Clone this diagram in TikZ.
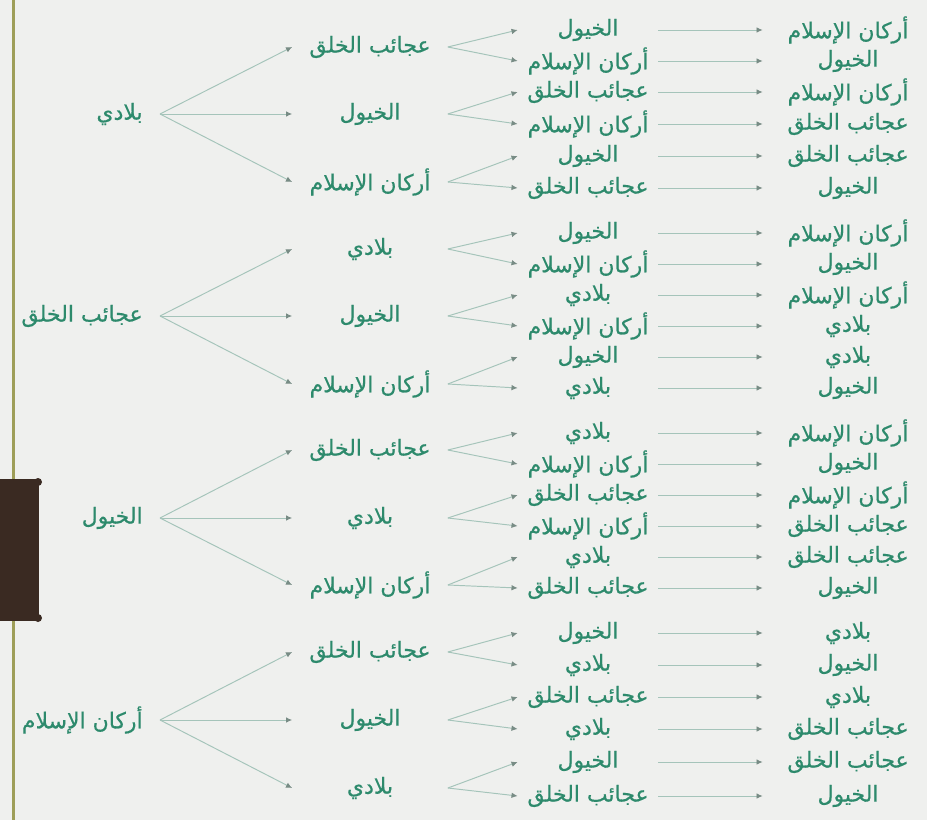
\documentclass[tikz,border=0pt]{standalone}
\usepackage{fontspec}
\newfontfamily\arabicfont[Script=Arabic,FakeBold=0.6]{DejaVu Sans}
\TeXXeTstate=1
\usetikzlibrary{arrows.meta}
\definecolor{wordgreen}{RGB}{45,138,108}
\definecolor{linegreen}{RGB}{165,196,186}
\definecolor{tipgray}{RGB}{120,140,133}
\definecolor{paper}{RGB}{239,240,238}
\definecolor{marginline}{RGB}{158,158,88}
\definecolor{clipbrown}{RGB}{58,42,34}
\newcommand{\biladi}{\beginR بلادي\endR}
\newcommand{\ajaib}{\beginR عجائب الخلق\endR}
\newcommand{\khuyul}{\beginR الخيول\endR}
\newcommand{\arkan}{\beginR أركان الإسلام\endR}
\tikzstyle{every node}=[font=\arabicfont\fontsize{12.5}{14}\selectfont,text=wordgreen,inner sep=0pt]
\tikzstyle{root} = [anchor=east,inner xsep=3.4mm]
\tikzstyle{lvlone} = [minimum width=31mm]
\tikzstyle{lvltwo} = [minimum width=28mm]
\tikzstyle{lvlthree} = [minimum width=34mm]
\tikzstyle{arrow} = [linegreen,line width=0.55pt,-{Latex[length=3.5pt,width=3.2pt,color=tipgray]}]

\begin{document}
\begin{tikzpicture}[x=0.2mm,y=-0.2mm]
\useasboundingbox (0,0) rectangle (927,820);
\fill[paper] (0,0) rectangle (927,820);

% first words
\node[root] (r1) at (160,114) {\biladi};
\node[root] (r2) at (160,316) {\ajaib};
\node[root] (r3) at (160,518) {\khuyul};
\node[root] (r4) at (160,720) {\arkan};

% second words
\node[lvlone] (c1) at (370,47) {\ajaib};
\node[lvlone] (c2) at (370,114) {\khuyul};
\node[lvlone] (c3) at (370,182) {\arkan};
\node[lvlone] (c4) at (370,249) {\biladi};
\node[lvlone] (c5) at (370,316) {\khuyul};
\node[lvlone] (c6) at (370,384) {\arkan};
\node[lvlone] (c7) at (370,450) {\ajaib};
\node[lvlone] (c8) at (370,518) {\biladi};
\node[lvlone] (c9) at (370,585) {\arkan};
\node[lvlone] (c10) at (370,652) {\ajaib};
\node[lvlone] (c11) at (370,720) {\khuyul};
\node[lvlone] (c12) at (370,788) {\biladi};

\draw (r1.east) edge[arrow] (c1.west) edge[arrow] (c2.west) edge[arrow] (c3.west);
\draw (r2.east) edge[arrow] (c4.west) edge[arrow] (c5.west) edge[arrow] (c6.west);
\draw (r3.east) edge[arrow] (c7.west) edge[arrow] (c8.west) edge[arrow] (c9.west);
\draw (r4.east) edge[arrow] (c10.west) edge[arrow] (c11.west) edge[arrow] (c12.west);

% third and last words, one row each
\path (588,30) node[lvltwo] (g1) {\khuyul} (848,30) node[lvlthree] (e1) {\arkan} (g1.east) edge[arrow] (e1.west);
\path (588,61) node[lvltwo] (g2) {\arkan} (848,61) node[lvlthree] (e2) {\khuyul} (g2.east) edge[arrow] (e2.west);
\path (588,92) node[lvltwo] (g3) {\ajaib} (848,92) node[lvlthree] (e3) {\arkan} (g3.east) edge[arrow] (e3.west);
\path (588,124) node[lvltwo] (g4) {\arkan} (848,124) node[lvlthree] (e4) {\ajaib} (g4.east) edge[arrow] (e4.west);
\path (588,156) node[lvltwo] (g5) {\khuyul} (848,156) node[lvlthree] (e5) {\ajaib} (g5.east) edge[arrow] (e5.west);
\path (588,188) node[lvltwo] (g6) {\ajaib} (848,188) node[lvlthree] (e6) {\khuyul} (g6.east) edge[arrow] (e6.west);
\path (588,233) node[lvltwo] (g7) {\khuyul} (848,233) node[lvlthree] (e7) {\arkan} (g7.east) edge[arrow] (e7.west);
\path (588,264) node[lvltwo] (g8) {\arkan} (848,264) node[lvlthree] (e8) {\khuyul} (g8.east) edge[arrow] (e8.west);
\path (588,295) node[lvltwo] (g9) {\biladi} (848,295) node[lvlthree] (e9) {\arkan} (g9.east) edge[arrow] (e9.west);
\path (588,326) node[lvltwo] (g10) {\arkan} (848,326) node[lvlthree] (e10) {\biladi} (g10.east) edge[arrow] (e10.west);
\path (588,357) node[lvltwo] (g11) {\khuyul} (848,357) node[lvlthree] (e11) {\biladi} (g11.east) edge[arrow] (e11.west);
\path (588,388) node[lvltwo] (g12) {\biladi} (848,388) node[lvlthree] (e12) {\khuyul} (g12.east) edge[arrow] (e12.west);
\path (588,433) node[lvltwo] (g13) {\biladi} (848,433) node[lvlthree] (e13) {\arkan} (g13.east) edge[arrow] (e13.west);
\path (588,464) node[lvltwo] (g14) {\arkan} (848,464) node[lvlthree] (e14) {\khuyul} (g14.east) edge[arrow] (e14.west);
\path (588,495) node[lvltwo] (g15) {\ajaib} (848,495) node[lvlthree] (e15) {\arkan} (g15.east) edge[arrow] (e15.west);
\path (588,526) node[lvltwo] (g16) {\arkan} (848,526) node[lvlthree] (e16) {\ajaib} (g16.east) edge[arrow] (e16.west);
\path (588,557) node[lvltwo] (g17) {\biladi} (848,557) node[lvlthree] (e17) {\ajaib} (g17.east) edge[arrow] (e17.west);
\path (588,588) node[lvltwo] (g18) {\ajaib} (848,588) node[lvlthree] (e18) {\khuyul} (g18.east) edge[arrow] (e18.west);
\path (588,633) node[lvltwo] (g19) {\khuyul} (848,633) node[lvlthree] (e19) {\biladi} (g19.east) edge[arrow] (e19.west);
\path (588,665) node[lvltwo] (g20) {\biladi} (848,665) node[lvlthree] (e20) {\khuyul} (g20.east) edge[arrow] (e20.west);
\path (588,697) node[lvltwo] (g21) {\ajaib} (848,697) node[lvlthree] (e21) {\biladi} (g21.east) edge[arrow] (e21.west);
\path (588,729) node[lvltwo] (g22) {\biladi} (848,729) node[lvlthree] (e22) {\ajaib} (g22.east) edge[arrow] (e22.west);
\path (588,762) node[lvltwo] (g23) {\khuyul} (848,762) node[lvlthree] (e23) {\ajaib} (g23.east) edge[arrow] (e23.west);
\path (588,796) node[lvltwo] (g24) {\ajaib} (848,796) node[lvlthree] (e24) {\khuyul} (g24.east) edge[arrow] (e24.west);

\draw (c1.east) edge[arrow] (g1.west) edge[arrow] (g2.west);
\draw (c2.east) edge[arrow] (g3.west) edge[arrow] (g4.west);
\draw (c3.east) edge[arrow] (g5.west) edge[arrow] (g6.west);
\draw (c4.east) edge[arrow] (g7.west) edge[arrow] (g8.west);
\draw (c5.east) edge[arrow] (g9.west) edge[arrow] (g10.west);
\draw (c6.east) edge[arrow] (g11.west) edge[arrow] (g12.west);
\draw (c7.east) edge[arrow] (g13.west) edge[arrow] (g14.west);
\draw (c8.east) edge[arrow] (g15.west) edge[arrow] (g16.west);
\draw (c9.east) edge[arrow] (g17.west) edge[arrow] (g18.west);
\draw (c10.east) edge[arrow] (g19.west) edge[arrow] (g20.west);
\draw (c11.east) edge[arrow] (g21.west) edge[arrow] (g22.west);
\draw (c12.east) edge[arrow] (g23.west) edge[arrow] (g24.west);

% margin and clip
\draw[marginline,line width=0.6mm] (13,0) -- (13,820);
\fill[clipbrown] (0,479) rectangle (39,621);
\fill[clipbrown] (38,482) circle (0.8mm) (38,618) circle (0.8mm);
\end{tikzpicture}
\end{document}
